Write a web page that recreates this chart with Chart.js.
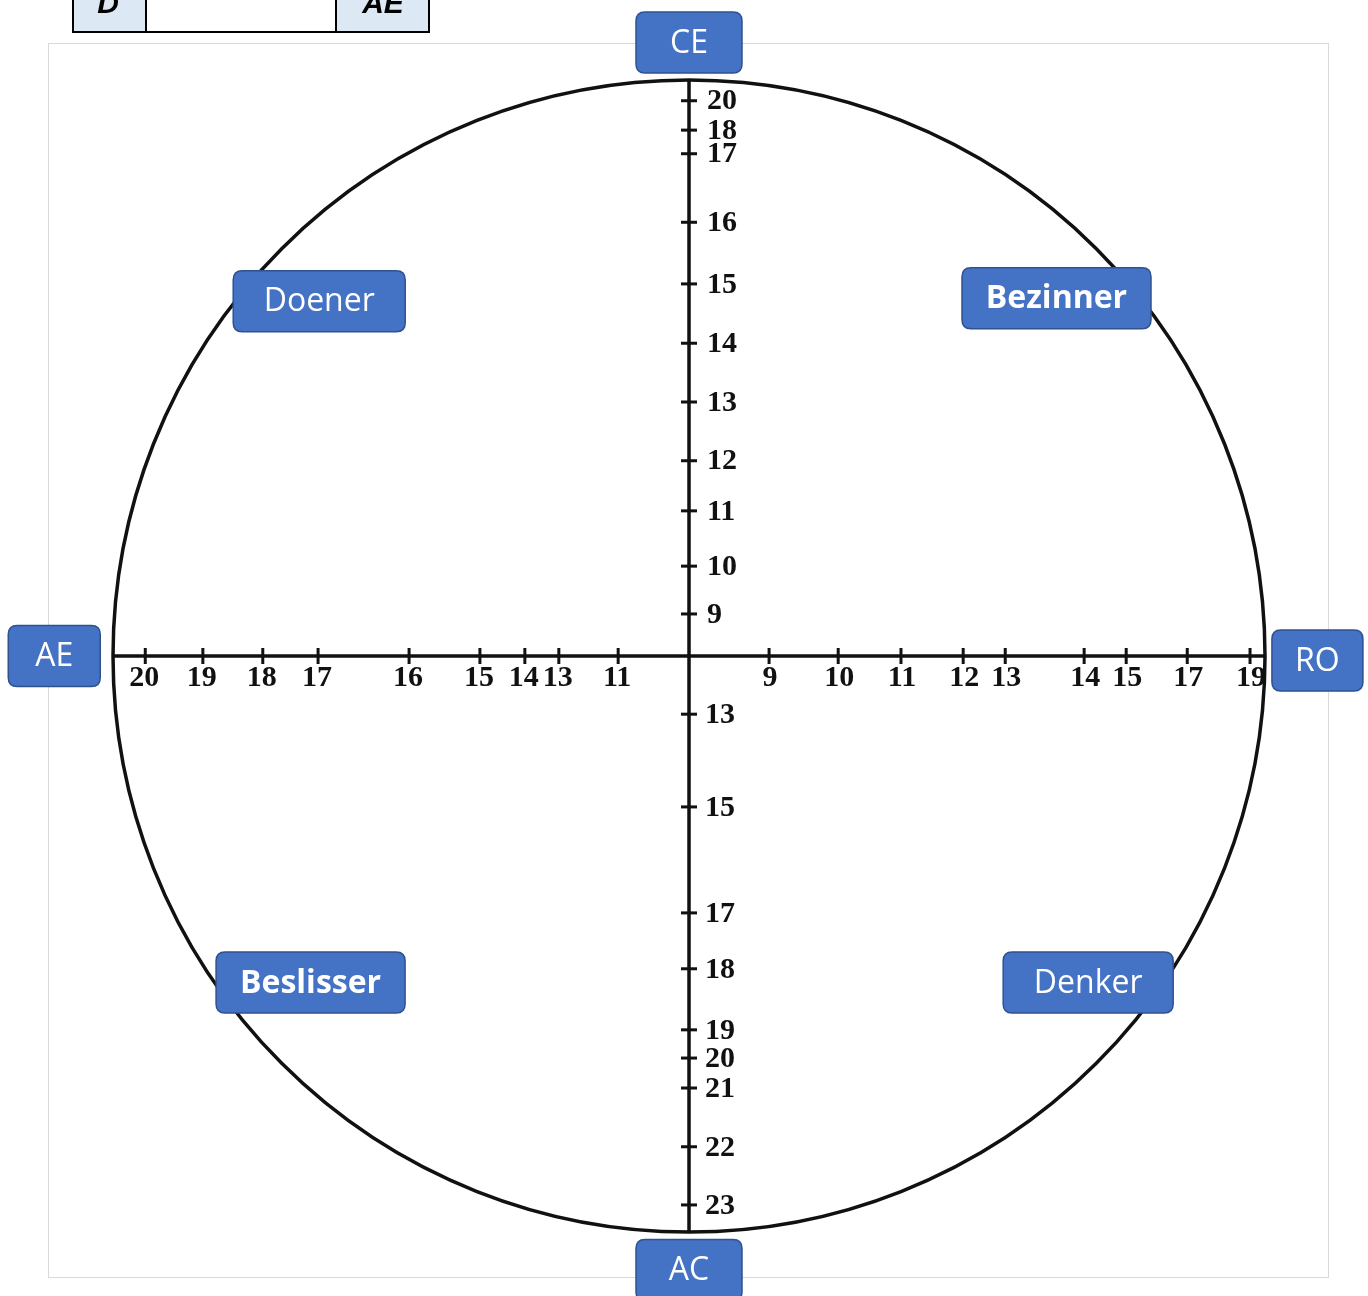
<!DOCTYPE html>
<html>
<head>
<meta charset="utf-8">
<style>
  html, body { margin: 0; padding: 0; background: #fff; }
  #wrap { width: 1368px; height: 1296px; }
</style>
<script src="https://cdn.jsdelivr.net/npm/chart.js@4/dist/chart.umd.min.js"></script>
</head>
<body>
<div id="wrap"><canvas id="kolb_chart" width="1368" height="1296"></canvas></div>
<script>
// printed scale values and where they sit on each half axis (0 = centre, 100 = circle)
var ae_ticks = [20, 19, 18, 17, 16, 15, 14, 13, 11];
var ae_pos   = [94.4, 84.4, 74.0, 64.4, 48.6, 36.3, 28.5, 22.6, 12.3];
var ro_ticks = [9, 10, 11, 12, 13, 14, 15, 17, 19];
var ro_pos   = [13.9, 25.9, 36.8, 47.6, 54.9, 68.6, 75.9, 86.5, 97.4];
var ce_ticks = [20, 18, 17, 16, 15, 14, 13, 12, 11, 10, 9];
var ce_pos   = [96.4, 91.3, 87.2, 75.3, 64.6, 54.3, 44.1, 33.9, 25.2, 15.6, 7.3];
var ac_ticks = [13, 15, 17, 18, 19, 20, 21, 22, 23];
var ac_pos   = [10.1, 26.2, 44.6, 54.3, 64.9, 69.8, 75.0, 85.2, 95.3];

// labels round the circle
var pole_labels  = ['CE', 'AC', 'AE', 'RO'];
var style_labels = ['Doener', 'Bezinner', 'Beslisser', 'Denker'];

// where the labels go (chart units) and how they look
var label_boxes = [
  { text: pole_labels[0],  x: 0,     y: 106.5,  w: 106, bold: false },
  { text: pole_labels[1],  x: 0,     y: -106.6, w: 106, bold: false },
  { text: pole_labels[2],  x: -110.2, y: 0,     w: 92,  bold: false },
  { text: pole_labels[3],  x: 109.1, y: -0.8,   w: 91,  bold: false },
  { text: style_labels[0], x: -64.2, y: 61.6,   w: 172, bold: false },
  { text: style_labels[1], x: 63.8,  y: 62.1,   w: 189, bold: true },
  { text: style_labels[2], x: -65.7, y: -56.7,  w: 189, bold: true },
  { text: style_labels[3], x: 69.3,  y: -56.7,  w: 170, bold: false }
];

function pts(pos, sx, sy) {
  return pos.map(function (p) { return { x: p * sx, y: p * sy }; });
}

var tick_font = "bold 30px 'Liberation Serif'";

function roundRect(c, x, y, w, h, r) {
  c.beginPath();
  c.moveTo(x + r, y);
  c.lineTo(x + w - r, y);
  c.quadraticCurveTo(x + w, y, x + w, y + r);
  c.lineTo(x + w, y + h - r);
  c.quadraticCurveTo(x + w, y + h, x + w - r, y + h);
  c.lineTo(x + r, y + h);
  c.quadraticCurveTo(x, y + h, x, y + h - r);
  c.lineTo(x, y + r);
  c.quadraticCurveTo(x, y, x + r, y);
  c.closePath();
}

// page bits behind the diagram: frame and the cut-off table at the top
var backdrop = {
  id: 'backdrop',
  beforeDraw: function (chart) {
    var c = chart.ctx;
    c.save();
    c.fillStyle = '#fff';
    c.fillRect(0, 0, chart.width, chart.height);
    c.strokeStyle = '#d9d9d9';
    c.lineWidth = 1;
    c.strokeRect(48.5, 43.5, 1280, 1234);
    // table fragment
    c.fillStyle = '#dde8f5';
    c.fillRect(72, 0, 74, 32);
    c.fillRect(336, 0, 94, 32);
    c.strokeStyle = '#000';
    c.lineWidth = 2;
    c.strokeRect(73, -5, 356, 37);
    c.beginPath();
    c.moveTo(146, 0); c.lineTo(146, 32);
    c.moveTo(336, 0); c.lineTo(336, 32);
    c.stroke();
    c.fillStyle = '#000';
    c.font = "italic bold 30px 'Liberation Sans'";
    c.textAlign = 'center';
    c.textBaseline = 'alphabetic';
    c.fillText('D', 108, 13);
    c.fillText('AE', 383, 13);
    c.restore();
  }
};

// circle, tick numbers and label boxes
var kolb = {
  id: 'kolb',
  beforeDatasetsDraw: function (chart) {
    var c = chart.ctx, sx = chart.scales.x, sy = chart.scales.y;
    var cx = sx.getPixelForValue(0), cy = sy.getPixelForValue(0);
    var r = sx.getPixelForValue(100) - cx;
    c.save();
    c.strokeStyle = '#111';
    c.lineWidth = 3.5;
    c.beginPath();
    c.arc(cx, cy, r, 0, Math.PI * 2);
    c.stroke();
    c.restore();
  },
  afterDatasetsDraw: function (chart) {
    var c = chart.ctx, sx = chart.scales.x, sy = chart.scales.y;
    var cx = sx.getPixelForValue(0), cy = sy.getPixelForValue(0);
    c.save();
    c.fillStyle = '#111';
    c.font = tick_font;
    c.textAlign = 'center';
    c.textBaseline = 'middle';
    ae_ticks.forEach(function (t, i) {
      c.fillText(String(t), sx.getPixelForValue(-ae_pos[i]) - 1, cy + 22);
    });
    ro_ticks.forEach(function (t, i) {
      c.fillText(String(t), sx.getPixelForValue(ro_pos[i]) + 1, cy + 22);
    });
    c.textAlign = 'left';
    ce_ticks.forEach(function (t, i) {
      c.fillText(String(t), cx + 18, sy.getPixelForValue(ce_pos[i]) + 1);
    });
    ac_ticks.forEach(function (t, i) {
      c.fillText(String(t), cx + 16, sy.getPixelForValue(-ac_pos[i]) + 1);
    });

    // blue labels
    label_boxes.forEach(function (b) {
      var px = sx.getPixelForValue(b.x), py = sy.getPixelForValue(b.y);
      var h = 61;
      roundRect(c, px - b.w / 2, py - h / 2, b.w, h, 9);
      c.fillStyle = '#4472c4';
      c.fill();
      c.strokeStyle = '#2f528f';
      c.lineWidth = 1.5;
      c.stroke();
      c.fillStyle = '#fff';
      c.font = (b.bold ? 'bold ' : '') + "32px 'Open Sans'";
      c.textAlign = 'center';
      c.textBaseline = 'middle';
      c.fillText(b.text, px, py + 1);
    });
    c.restore();
  }
};

var ctx = document.getElementById('kolb_chart').getContext('2d');
var my_chart = new Chart(ctx, {
  type: 'scatter',
  data: {
    datasets: [{
      type: 'line',
      data: [{ x: -100, y: 0 }, { x: 100, y: 0 }],
      borderColor: '#111',
      borderWidth: 3.5,
      pointRadius: 0
    }, {
      type: 'line',
      data: [{ x: 0, y: 100 }, { x: 0, y: -100 }],
      borderColor: '#111',
      borderWidth: 3.5,
      pointRadius: 0
    }, {
      data: pts(ae_pos, -1, 0).concat(pts(ro_pos, 1, 0)),
      pointStyle: 'line',
      rotation: 90,
      radius: 8,
      borderColor: '#111',
      borderWidth: 3
    }, {
      data: pts(ce_pos, 0, 1).concat(pts(ac_pos, 0, -1)),
      pointStyle: 'line',
      radius: 8,
      borderColor: '#111',
      borderWidth: 3
    }]
  },
  options: {
    responsive: false,
    animation: false,
    layout: { padding: 0, autoPadding: false },
    plugins: { legend: { display: false }, tooltip: { enabled: false } },
    scales: {
      x: { type: 'linear', display: false, min: -119.62, max: 117.88 },
      y: { type: 'linear', display: false, min: -111.11, max: 113.89 }
    }
  },
  plugins: [backdrop, kolb]
});
</script>
</body>
</html>
